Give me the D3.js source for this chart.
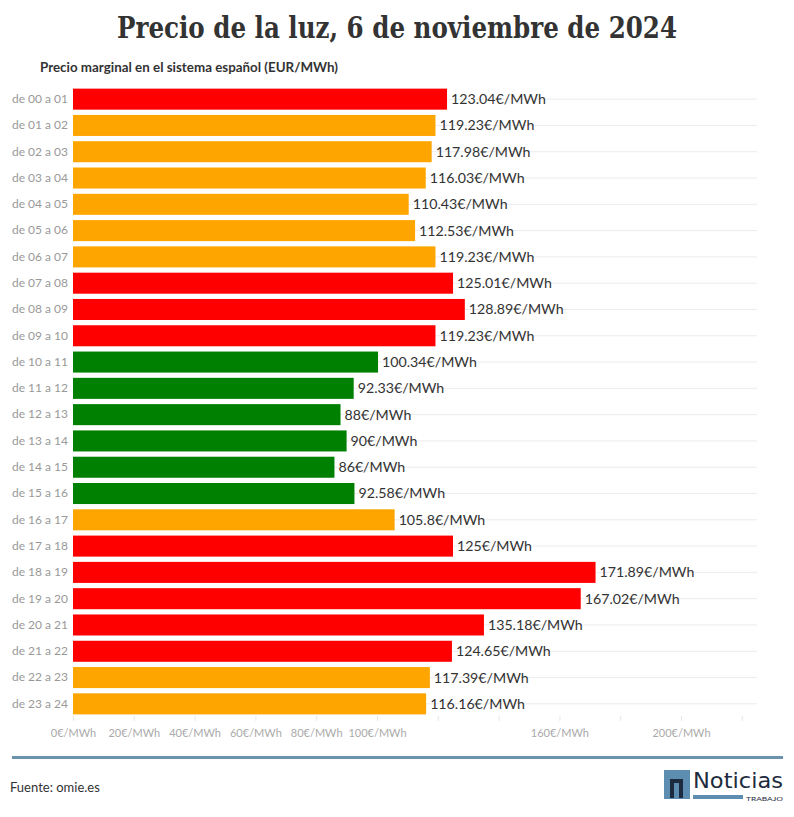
<!DOCTYPE html>
<html><head><meta charset="utf-8">
<script src="https://cdn.jsdelivr.net/npm/d3@7"></script>
<style>body{margin:0;background:#fff;}svg{display:block;}</style>
</head><body>
<svg id="c" width="794" height="817"></svg>
<script>
const hours = ["de 00 a 01","de 01 a 02","de 02 a 03","de 03 a 04","de 04 a 05","de 05 a 06","de 06 a 07","de 07 a 08","de 08 a 09","de 09 a 10","de 10 a 11","de 11 a 12","de 12 a 13","de 13 a 14","de 14 a 15","de 15 a 16","de 16 a 17","de 17 a 18","de 18 a 19","de 19 a 20","de 20 a 21","de 21 a 22","de 22 a 23","de 23 a 24"];
const prices = [123.04,119.23,117.98,116.03,110.43,112.53,119.23,125.01,128.89,119.23,100.34,92.33,88,90,86,92.58,105.8,125,171.89,167.02,135.18,124.65,117.39,116.16];
const levels = ["high","mid","mid","mid","mid","mid","mid","high","high","high","low","low","low","low","low","low","mid","high","high","high","high","high","mid","mid"];
const ticks = [0,20,40,60,80,100,120,140,160,180,200,220];
const shownTickLabels = [0,20,40,60,80,100,160,200];
const levelColors = {high:"#ff0000", mid:"#ffa500", low:"#008000"};

const svg = d3.select("#c");
const sans = "Lato, 'Open Sans', sans-serif";

svg.append("text").attr("x",397).attr("y",38).attr("text-anchor","middle")
  .attr("font-family","'DejaVu Serif Condensed', 'DejaVu Serif', serif").attr("font-weight","bold")
  .attr("font-size",29).attr("fill","#333")
  .attr("textLength",560).attr("lengthAdjust","spacingAndGlyphs")
  .text("Precio de la luz, 6 de noviembre de 2024");

svg.append("text").attr("x",40).attr("y",72).attr("font-family",sans).attr("font-weight","bold")
  .attr("font-size",12.5).attr("fill","#333").attr("textLength",298).attr("lengthAdjust","spacingAndGlyphs")
  .text("Precio marginal en el sistema español (EUR/MWh)");

const x = d3.scaleLinear().domain([0,225]).range([73,757]);
const y = d3.scaleBand().domain(hours).range([86,717]).paddingInner(0.2).paddingOuter(0.1);

const g = svg.append("g");
g.selectAll("line.grid").data(hours).join("line").attr("class","grid")
  .attr("x1",x(0)).attr("x2",x.range()[1])
  .attr("y1",d=>y(d)+y.bandwidth()/2).attr("y2",d=>y(d)+y.bandwidth()/2)
  .attr("stroke","#ececec").attr("stroke-width",1);

g.selectAll("rect").data(hours).join("rect")
  .attr("x",x(0)).attr("y",d=>y(d)).attr("height",y.bandwidth())
  .attr("width",(d,i)=>x(prices[i])-x(0))
  .attr("fill",(d,i)=>levelColors[levels[i]]);

g.selectAll("text.val").data(hours).join("text").attr("class","val")
  .attr("x",(d,i)=>x(prices[i])+4).attr("y",d=>y(d)+y.bandwidth()/2).attr("dy","0.35em")
  .attr("font-family",sans).attr("font-size",14.2).attr("fill","#333")
  .text((d,i)=>prices[i]+"€/MWh");

const yAxis = d3.axisLeft(y).tickSize(0).tickPadding(5);
const ya = svg.append("g").attr("transform",`translate(${x(0)},0)`).call(yAxis);
ya.select(".domain").remove();
ya.selectAll("text").attr("font-family",sans).attr("font-size",12).attr("fill","#999");

const xAxis = d3.axisBottom(x).tickValues(ticks).tickSize(5).tickPadding(8)
  .tickFormat(d=>shownTickLabels.includes(d)? d+"€/MWh" : "");
const xa = svg.append("g").attr("transform","translate(0,716)").call(xAxis);
xa.select(".domain").remove();
xa.selectAll("line").attr("stroke","#e6e6e6");
xa.selectAll("text").attr("font-family",sans).attr("font-size",11).attr("fill","#aaa");

svg.append("rect").attr("x",12).attr("y",756).attr("width",771).attr("height",3).attr("fill","#6b93ae");
svg.append("text").attr("x",10).attr("y",792).attr("font-family",sans).attr("font-size",13).attr("fill","#333").text("Fuente: omie.es");

const logo = svg.append("g");
logo.append("rect").attr("x",664).attr("y",770).attr("width",26).attr("height",29).attr("fill","#5d8db0");
logo.append("path").attr("d","M670 798 V779 H683 V798 H679 V783 H674 V798 Z").attr("fill","#1d2b3e");
logo.append("text").attr("x",693).attr("y",788).attr("font-family","'Liberation Sans Narrow', 'DejaVu Sans Condensed', sans-serif")
  .attr("font-size",21).attr("fill","#1d2b3e").attr("textLength",90).attr("lengthAdjust","spacingAndGlyphs").text("Noticias");
logo.append("rect").attr("x",693).attr("y",795).attr("width",50).attr("height",4).attr("fill","#5d8db0");
logo.append("text").attr("x",746).attr("y",800.5).attr("font-family",sans).attr("font-size",6.5).attr("fill","#1d2b3e")
  .attr("textLength",37).attr("lengthAdjust","spacingAndGlyphs").text("TRABAJO");
</script>
</body></html>
